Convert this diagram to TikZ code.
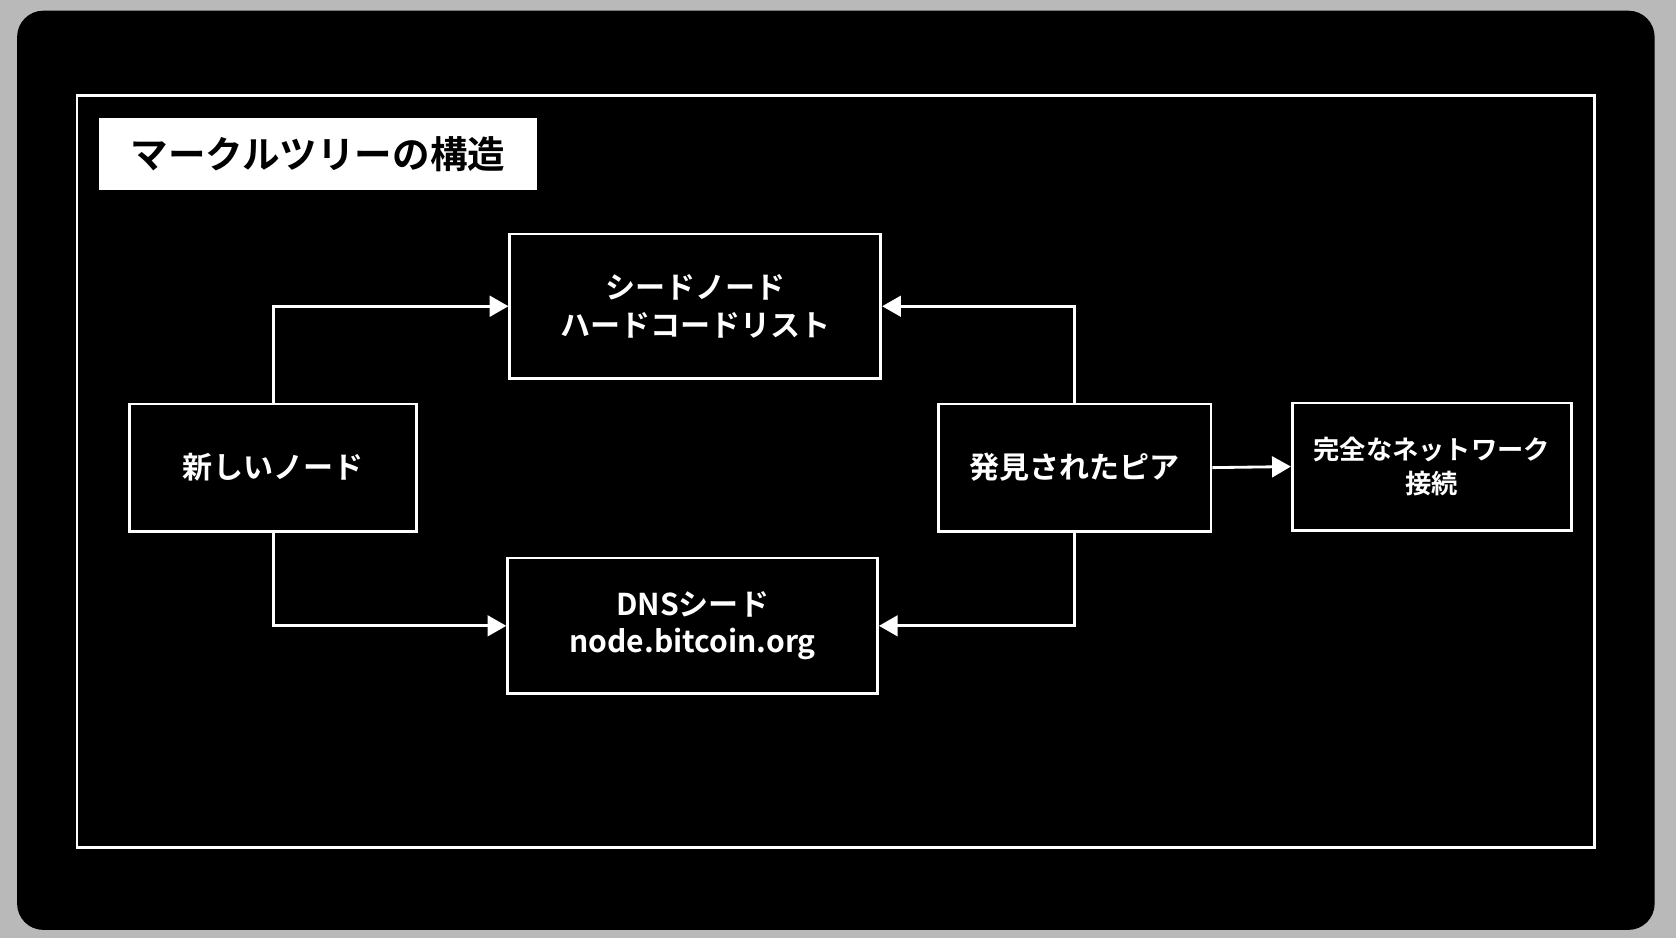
\documentclass[tikz,border=0pt]{standalone}
\usepackage{fontspec}
\setmainfont{Noto Sans CJK JP}[BoldFont={Noto Sans CJK JP Bold}]
\usetikzlibrary{arrows.meta}
\begin{document}
\begin{tikzpicture}[x=0.02cm,y=-0.02cm]
    \tikzset{box/.style={draw=white,line width=1.5pt,text=white,font=\bfseries\fontsize{16}{20}\selectfont,align=center,inner sep=0pt},
             link/.style={draw=white,line width=1.5pt,-{Triangle[length=10pt,width=11pt]}}}
    \fill[gray!55] (0,0) rectangle (1568,878);
    \fill[black,rounded corners=14pt] (16,10) rectangle (1548,870);
    \draw[white,line width=1.5pt] (72,89) rectangle (1492,793);

    \node[fill=white,minimum width=409*0.02cm,minimum height=68*0.02cm,font=\bfseries\fontsize{20}{24}\selectfont,inner sep=0pt] (title) at (297.5,144) {マークルツリーの構造};

    \node[box,minimum width=347*0.02cm,minimum height=135*0.02cm] (seed) at (650.5,286.5) {シードノード\\ハードコードリスト};
    \node[box,minimum width=346*0.02cm,minimum height=127*0.02cm] (dns) at (648,585.5) {DNSシード\\node.bitcoin.org};
    \node[box,minimum width=269*0.02cm,minimum height=119*0.02cm] (new) at (255.5,437.5) {新しいノード};
    \node[box,minimum width=255*0.02cm,minimum height=119*0.02cm] (peer) at (1005.5,437.5) {発見されたピア};
    \node[box,minimum width=261*0.02cm,minimum height=119*0.02cm,font=\bfseries\fontsize{14}{18}\selectfont] (full) at (1339.5,436.5) {完全なネットワーク\\接続};

    \draw[link] (new.north) |- (seed.west);
    \draw[link] (new.south) |- (dns.west);
    \draw[link] (peer.north) |- (seed.east);
    \draw[link] (peer.south) |- (dns.east);
    \draw[link] (peer.east) -- (full.west);
\end{tikzpicture}
\end{document}
